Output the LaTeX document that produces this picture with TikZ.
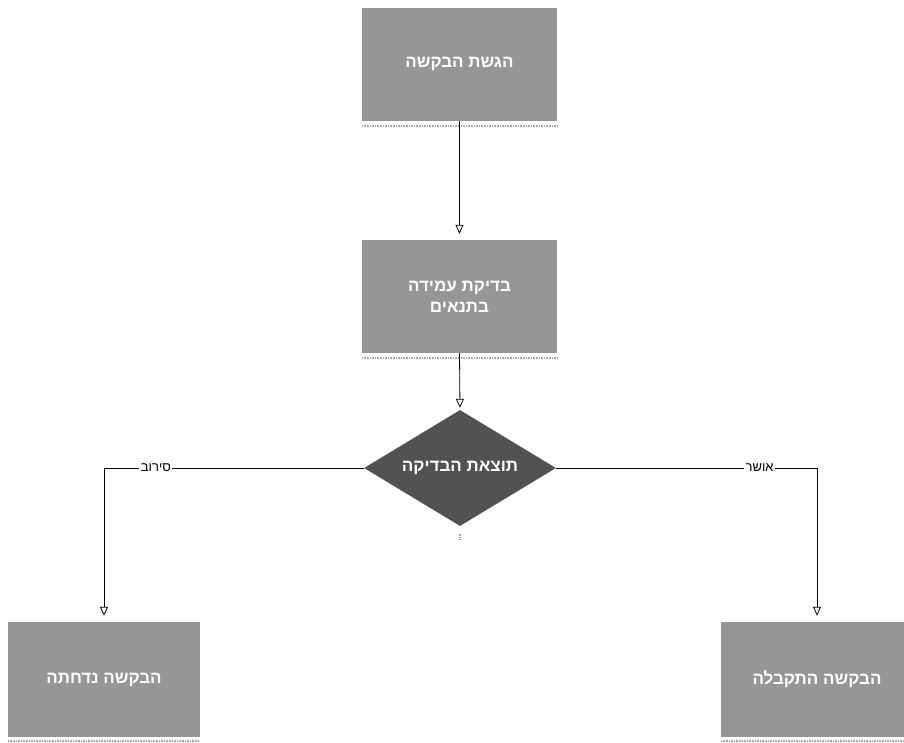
\documentclass[tikz,border=0pt]{standalone}
\usepackage{fontspec}
\setmainfont{Liberation Sans}
\newfontfamily\hebfont[Script=Hebrew]{Liberation Sans}
\TeXXeTstate=1
\usetikzlibrary{shapes.geometric,arrows.meta}
\definecolor{boxgray}{RGB}{150,150,150}
\definecolor{diagray}{RGB}{82,82,82}
\begin{document}
\begin{tikzpicture}[x=1pt,y=-1pt,
  procbox/.style={rectangle, fill=boxgray, draw=none, minimum width=195pt, minimum height=113pt, inner sep=0pt, text=white, font=\hebfont\fontsize{17}{21}\selectfont\bfseries, align=center},
  decbox/.style={diamond, fill=diagray, draw=none, minimum width=192pt, minimum height=116pt, aspect=1.65, inner sep=0pt, text=white, font=\hebfont\fontsize{17}{21}\selectfont\bfseries},
  flow/.style={draw=black, line width=0.8pt, -{Triangle[open,width=8pt,length=9pt]}},
  elabel/.style={fill=white, text=black, inner sep=1.5pt, font=\hebfont\fontsize{13}{15}\selectfont},
  shadowline/.style={draw=gray!70, densely dotted, line width=1.6pt}]
\useasboundingbox (0,0) rectangle (904,742);
\fill[white] (0,0) rectangle (904,742);

\node[procbox] (n1) at (459.5,64) {\beginR הגשת הבקשה\endR};
\node[procbox] (n2) at (459.5,296.5) {\beginR בדיקת עמידה\endR\\\beginR בתנאים\endR};
\node[decbox] (d) at (460,468) {\beginR תוצאת הבדיקה\endR};
\node[procbox, minimum width=192pt, minimum height=115pt] (lb) at (104,679.5) {\beginR הבקשה נדחתה\endR};
\node[procbox, minimum width=192pt, minimum height=115pt] (rb) at (817,679.5) {\beginR הבקשה התקבלה\endR};

\draw[shadowline] ([yshift=-5pt]n1.south west) -- ([yshift=-5pt]n1.south east);
\draw[shadowline] ([yshift=-5pt]n2.south west) -- ([yshift=-5pt]n2.south east);
\draw[shadowline] ([yshift=-4pt]lb.south west) -- ([yshift=-4pt]lb.south east);
\draw[shadowline] ([yshift=-4pt]rb.south west) -- ([yshift=-4pt]rb.south east);
\draw[shadowline] ([yshift=-8pt]d.south) -- ([yshift=-14pt]d.south);

\draw[flow, shorten >=6pt] (n1.south) -- (n2.north);
\draw[flow, shorten >=2pt] (n2.south) -- (d.north);
\draw[flow, shorten >=6pt] (d.west) -| node[elabel, pos=0.4] {\beginR סירוב\endR} (lb.north);
\draw[flow, shorten >=6pt] (d.east) -| node[elabel, pos=0.39] {\beginR אושר\endR} (rb.north);
\end{tikzpicture}
\end{document}
